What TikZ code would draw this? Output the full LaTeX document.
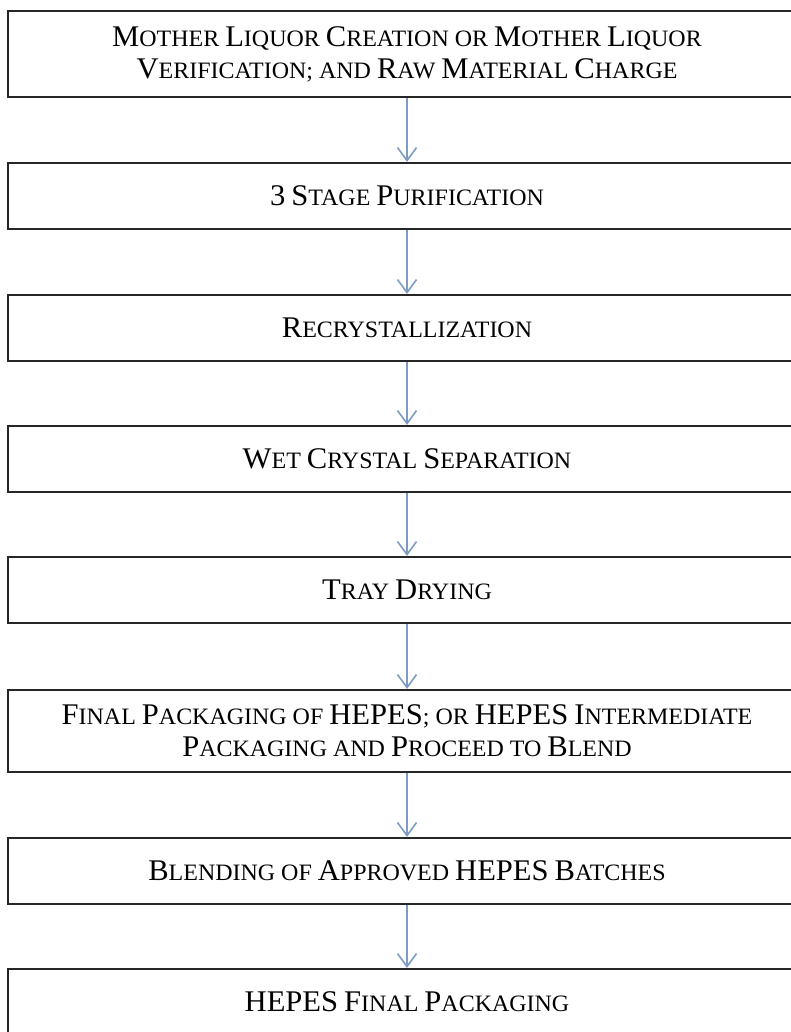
\documentclass[tikz,border=0pt]{standalone}
\usepackage{fontspec}
\setmainfont[FakeStretch=1.02]{Liberation Serif}
\usetikzlibrary{arrows.meta}
\definecolor{arrowblue}{RGB}{125,155,195}
\newcommand{\Bg}[1]{{\fontsize{30}{32}\selectfont #1}}
\tikzset{
  stepbox/.style={draw=black!85, line width=2.2pt, minimum width=798pt, inner sep=0pt,
    align=center, font=\fontsize{23.5}{32}\selectfont},
  flowarrow/.style={draw=arrowblue, line width=2pt, -{Straight Barb[length=13pt,width=19pt,line width=1.6pt]}},
}
\begin{document}
\begin{tikzpicture}[x=1pt,y=-1pt]
\clip (0,0) rectangle (791,1032);
\node[stepbox, minimum height=86pt] (b1) at (407,54) {\Bg{M}OTHER \Bg{L}IQUOR \Bg{C}REATION OR \Bg{M}OTHER \Bg{L}IQUOR\\ \Bg{V}ERIFICATION; AND \Bg{R}AW \Bg{M}ATERIAL \Bg{C}HARGE};
\node[stepbox, minimum height=66pt] (b2) at (407,196) {\Bg{3} \Bg{S}TAGE \Bg{P}URIFICATION};
\node[stepbox, minimum height=66pt] (b3) at (407,328) {\Bg{R}ECRYSTALLIZATION};
\node[stepbox, minimum height=66pt] (b4) at (407,459) {\Bg{W}ET \Bg{C}RYSTAL \Bg{S}EPARATION};
\node[stepbox, minimum height=66pt] (b5) at (407,590) {\Bg{T}RAY \Bg{D}RYING};
\node[stepbox, minimum height=82pt] (b6) at (407,731) {\Bg{F}INAL \Bg{P}ACKAGING OF \Bg{HEPES}; OR \Bg{HEPES} \Bg{I}NTERMEDIATE\\ \Bg{P}ACKAGING AND \Bg{P}ROCEED TO \Bg{B}LEND};
\node[stepbox, minimum height=66pt] (b7) at (407,871) {\Bg{B}LENDING OF \Bg{A}PPROVED \Bg{HEPES} \Bg{B}ATCHES};
\node[stepbox, minimum height=66pt] (b8) at (407,1002) {\Bg{HEPES} \Bg{F}INAL \Bg{P}ACKAGING};
\foreach \a/\b in {b1/b2,b2/b3,b3/b4,b4/b5,b5/b6,b6/b7,b7/b8}
  \draw[flowarrow] (\a.south) -- (\b.north);
\end{tikzpicture}
\end{document}
